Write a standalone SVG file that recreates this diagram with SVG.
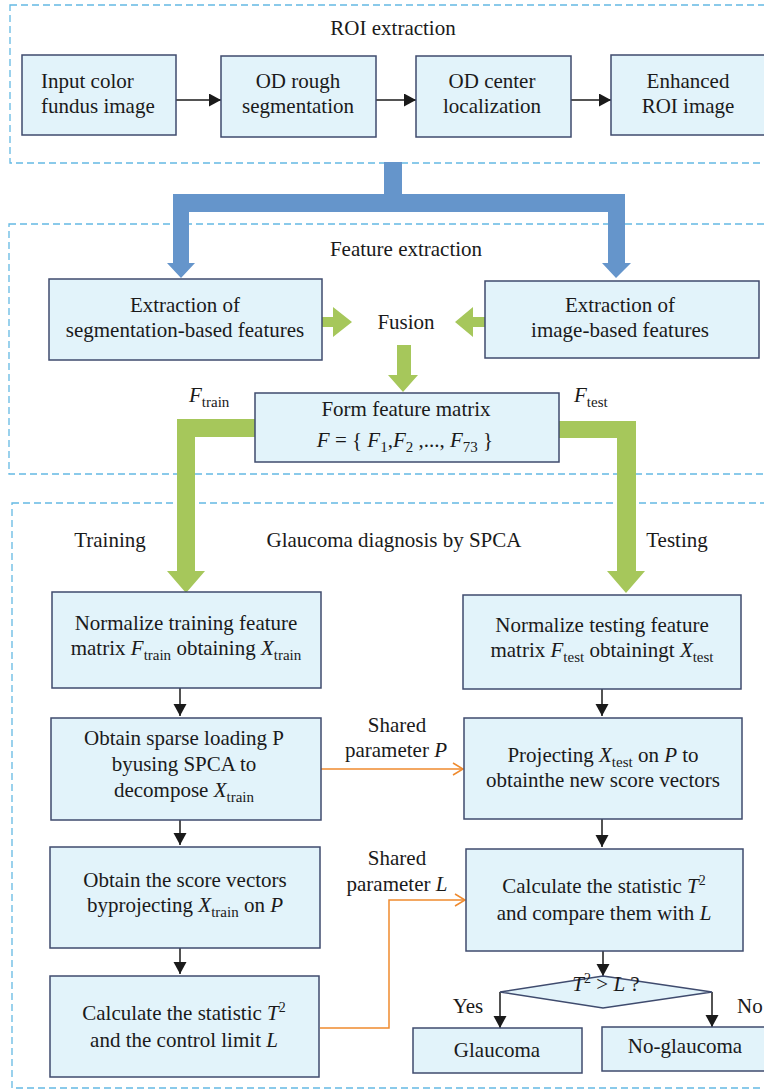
<svg xmlns="http://www.w3.org/2000/svg" width="764" height="1090" viewBox="0 0 764 1090">
<defs>
<style>
.box{fill:#E2F3FA;stroke:#3F4B6E;stroke-width:1.5}
.dash{fill:none;stroke:#64B9E3;stroke-width:1.3;stroke-dasharray:7 4}
.t{font-family:"Liberation Serif","DejaVu Serif",serif;font-size:21px;fill:#1a1a1a}
.c{text-anchor:middle}
.i{font-style:italic}
.sub{font-size:15px}
.sup{font-size:14px}
.blk{fill:none;stroke:#1a1a1a;stroke-width:1.5;marker-end:url(#ah)}
.org{fill:none;stroke:#EF8A2E;stroke-width:1.5;marker-end:url(#oh)}
.blue{fill:#6595CB}
.green{fill:#A6C75B}
</style>
<marker id="ah" markerUnits="userSpaceOnUse" markerWidth="14" markerHeight="14" refX="12" refY="6.5" orient="auto">
<path d="M0,0 L12,6.5 L0,13 Z" fill="#1a1a1a"/>
</marker>
<marker id="oh" markerUnits="userSpaceOnUse" markerWidth="14" markerHeight="16" refX="11" refY="7" orient="auto">
<path d="M1,1 L11,7 L1,13" fill="none" stroke="#EF8A2E" stroke-width="1.5"/>
</marker>
</defs>
<rect width="764" height="1090" fill="#ffffff"/>

<g id="containers">
<rect class="dash" x="10" y="5" width="780" height="158"/>
<rect class="dash" x="9" y="224" width="780" height="250"/>
<rect class="dash" x="12" y="503" width="780" height="585"/>
<text class="t c" x="393" y="35">ROI extraction</text>
<text class="t c" x="406" y="256">Feature extraction</text>
<text class="t c" x="394" y="547">Glaucoma diagnosis by SPCA</text>
</g>

<g id="connectors">
<path class="blk" d="M176,100 H221"/>
<path class="blk" d="M376,100 H416"/>
<path class="blk" d="M571,100 H611"/>
<polygon class="blue" points="384,162 402,162 402,194 625,194 625,263 631,263 616,278 602,263 608,263 608,212 189,212 189,263 195,263 181,278 167,263 173,263 173,194 384,194"/>
<polygon class="green" points="322,317 333,317 333,307 352,322 333,337 333,327 322,327"/>
<polygon class="green" points="485,317 473,317 473,307 455,322 473,337 473,327 485,327"/>
<polygon class="green" points="397,345 411,345 411,375 418,375 403,392 388,375 397,375"/>
<polygon class="green" points="255,419 255,437 195,437 195,571 205,571 186,593 167,571 177,571 177,419"/>
<polygon class="green" points="559,421 559,438 617,438 617,571 607,571 626,593 645,571 636,571 636,421"/>
<path class="blk" d="M180,688 V716"/>
<path class="blk" d="M180,820 V845"/>
<path class="blk" d="M180,948 V974"/>
<path class="blk" d="M602,689 V716"/>
<path class="blk" d="M602,819 V847"/>
<path class="blk" d="M603,951 V976"/>
<path class="blk" d="M500,992 V1028"/>
<path class="blk" d="M712,992 V1027"/>
<path class="org" d="M321,769 H463"/>
<path class="org" d="M320,1028 H389 V900 H465"/>
<text class="t c" x="397" y="732">Shared</text>
<text class="t c" x="396" y="757">parameter <tspan class="i">P</tspan></text>
<text class="t c" x="397" y="865">Shared</text>
<text class="t c" x="397" y="891">parameter <tspan class="i">L</tspan></text>
<text class="t c" x="468" y="1013">Yes</text>
<text class="t" x="737" y="1013">No</text>
<text class="t" x="189" y="402"><tspan class="i">F</tspan><tspan class="sub" dy="5">train</tspan></text>
<text class="t" x="574" y="402"><tspan class="i">F</tspan><tspan class="sub" dy="5">test</tspan></text>
<text class="t c" x="110" y="547">Training</text>
<text class="t c" x="677" y="547">Testing</text>
</g>

<g id="n1"><rect class="box" x="22" y="55" width="154" height="80"/>
<text class="t" x="41" y="88">Input color</text><text class="t" x="41" y="113">fundus image</text></g>
<g id="n2"><rect class="box" x="221" y="56" width="155" height="81"/>
<text class="t c" x="298" y="88">OD rough</text><text class="t c" x="298" y="113">segmentation</text></g>
<g id="n3"><rect class="box" x="416" y="56" width="155" height="81"/>
<text class="t c" x="492" y="88">OD center</text><text class="t c" x="492" y="113">localization</text></g>
<g id="n4"><rect class="box" x="611" y="55" width="170" height="80"/>
<text class="t c" x="688" y="88">Enhanced</text><text class="t c" x="688" y="113">ROI image</text></g>

<g id="n5"><rect class="box" x="49" y="279" width="273" height="81"/>
<text class="t c" x="185" y="312">Extraction of</text><text class="t c" x="185" y="337">segmentation-based features</text></g>
<g id="n6"><rect class="box" x="485" y="281" width="274" height="77"/>
<text class="t c" x="620" y="312">Extraction of</text><text class="t c" x="620" y="337">image-based features</text></g>
<g id="n7"><text class="t c" x="406" y="329">Fusion</text></g>
<g id="n8"><rect class="box" x="255" y="393" width="304" height="69"/>
<text class="t c" x="406" y="416">Form feature matrix</text>
<text class="t c" x="405" y="447"><tspan class="i">F</tspan> = { <tspan class="i">F</tspan><tspan class="sub" dy="5">1</tspan><tspan dy="-5">,</tspan><tspan class="i">F</tspan><tspan class="sub" dy="5">2</tspan><tspan dy="-5"> ,..., </tspan><tspan class="i">F</tspan><tspan class="sub" dy="5">73</tspan><tspan dy="-5"> }</tspan></text></g>

<g id="n9"><rect class="box" x="52" y="592" width="269" height="96"/>
<text class="t c" x="186" y="630">Normalize training feature</text>
<text class="t c" x="186" y="655">matrix <tspan class="i">F</tspan><tspan class="sub" dy="5">train</tspan><tspan dy="-5"> obtaining </tspan><tspan class="i">X</tspan><tspan class="sub" dy="5">train</tspan></text></g>
<g id="n10"><rect class="box" x="463" y="595" width="278" height="94"/>
<text class="t c" x="602" y="632">Normalize testing feature</text>
<text class="t c" x="602" y="657">matrix <tspan class="i">F</tspan><tspan class="sub" dy="5">test</tspan><tspan dy="-5"> obtainingt </tspan><tspan class="i">X</tspan><tspan class="sub" dy="5">test</tspan></text></g>
<g id="n11"><rect class="box" x="51" y="718" width="270" height="102"/>
<text class="t c" x="184" y="745">Obtain sparse loading P</text>
<text class="t c" x="184" y="771">byusing SPCA to</text>
<text class="t c" x="184" y="797">decompose <tspan class="i">X</tspan><tspan class="sub" dy="5">train</tspan></text></g>
<g id="n12"><rect class="box" x="464" y="718" width="278" height="101"/>
<text class="t c" x="603" y="762">Projecting <tspan class="i">X</tspan><tspan class="sub" dy="5">test</tspan><tspan dy="-5"> on </tspan><tspan class="i">P</tspan> to</text>
<text class="t c" x="603" y="787">obtainthe new score vectors</text></g>
<g id="n13"><rect class="box" x="50" y="847" width="270" height="101"/>
<text class="t c" x="185" y="887">Obtain the score vectors</text>
<text class="t c" x="185" y="912">byprojecting <tspan class="i">X</tspan><tspan class="sub" dy="5">train</tspan><tspan dy="-5"> on </tspan><tspan class="i">P</tspan></text></g>
<g id="n14"><rect class="box" x="466" y="849" width="277" height="102"/>
<text class="t c" x="604" y="893">Calculate the statistic <tspan class="i">T</tspan><tspan class="sup" dy="-8">2</tspan></text>
<text class="t c" x="604" y="920">and compare them with <tspan class="i">L</tspan></text></g>
<g id="n15"><rect class="box" x="50" y="976" width="269" height="101"/>
<text class="t c" x="184" y="1020">Calculate the statistic <tspan class="i">T</tspan><tspan class="sup" dy="-8">2</tspan></text>
<text class="t c" x="184" y="1047">and the control limit <tspan class="i">L</tspan></text></g>
<g id="n16"><polygon class="box" points="500,992 603,976 712,992 603,1008"/>
<text class="t c" x="606" y="991"><tspan class="i">T</tspan><tspan class="sup" dy="-8">2</tspan><tspan dy="8"> &gt; </tspan><tspan class="i">L</tspan> ?</text></g>
<g id="n17"><rect class="box" x="413" y="1028" width="169" height="45"/>
<text class="t c" x="497" y="1057">Glaucoma</text></g>
<g id="n18"><rect class="box" x="602" y="1027" width="180" height="44"/>
<text class="t c" x="685" y="1053">No-glaucoma</text></g>
</svg>
